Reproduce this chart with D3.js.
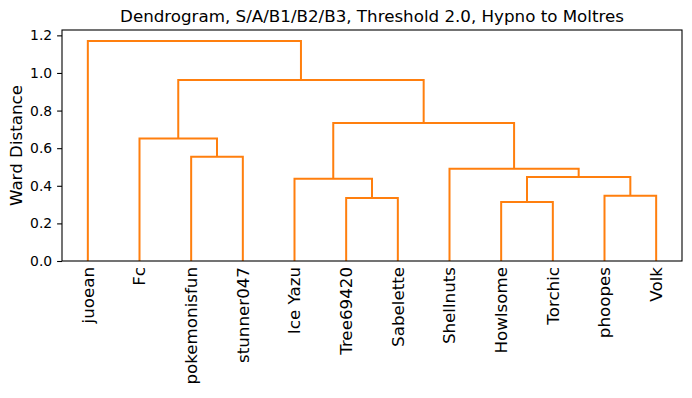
<!DOCTYPE html>
<html>
<head>
<meta charset="utf-8">
<script src="https://cdn.jsdelivr.net/npm/d3@7"></script>
<style>
  body { margin: 0; background: #fff; }
  text { font-family: "DejaVu Sans", sans-serif; fill: #000; }
</style>
</head>
<body>
<div id="chart"></div>
<script>
// leaves in dendrogram order
const leaves = ["juoean", "Fc", "pokemonisfun", "stunner047", "Ice Yazu", "Tree69420",
                "Sabelette", "Shellnuts", "Howlsome", "Torchic", "phoopes", "Volk"];

// linkage rows, scipy style: [clusterA, clusterB, height] -> new id = 12 + row
const linkA = [8, 5, 10, 4, 12, 7, 2, 1, 15, 19, 0];
const linkB = [9, 6, 11, 13, 14, 16, 3, 18, 17, 20, 21];
const linkH = [0.314, 0.335, 0.347, 0.438, 0.447, 0.491, 0.555, 0.651, 0.734, 0.963, 1.170];

const yTicks = [0.0, 0.2, 0.4, 0.6, 0.8, 1.0, 1.2];

const width = 692, height = 398;
const margin = { left: 62, right: 10, top: 30, bottom: 137 };
const lineColor = "#ff7f0e";

const svg = d3.select("#chart").append("svg")
    .attr("width", width)
    .attr("height", height);

const x = d3.scaleLinear().domain([0, leaves.length * 10]).range([margin.left, width - margin.right]);
const y = d3.scaleLinear().domain([0, d3.max(linkH) * 1.05]).range([height - margin.bottom, margin.top]);

// position + height of each cluster
let pos = leaves.map((d, i) => 5 + 10 * i);
let hgt = leaves.map(() => 0);

const g = svg.append("g");
linkA.forEach((a, i) => {
    let b = linkB[i], h = linkH[i];
    let pts = [[pos[a], hgt[a]], [pos[a], h], [pos[b], h], [pos[b], hgt[b]]];
    g.append("path")
        .attr("d", d3.line().x(p => x(p[0])).y(p => y(p[1]))(pts))
        .attr("fill", "none")
        .attr("stroke", lineColor)
        .attr("stroke-width", 2);
    pos.push((pos[a] + pos[b]) / 2);
    hgt.push(h);
});

// frame
svg.append("rect")
    .attr("x", margin.left)
    .attr("y", margin.top)
    .attr("width", width - margin.right - margin.left)
    .attr("height", height - margin.bottom - margin.top)
    .attr("fill", "none")
    .attr("stroke", "#000")
    .attr("stroke-width", 1.1);

// y axis
const yAxis = svg.append("g")
    .attr("transform", `translate(${margin.left},0)`)
    .call(d3.axisLeft(y).tickValues(yTicks).tickFormat(d3.format(".1f")).tickSize(4.9).tickPadding(4.9));
yAxis.select(".domain").remove();
yAxis.selectAll("line").attr("stroke", "#000").attr("stroke-width", 1.1);
yAxis.selectAll("text")
    .style("font-family", "DejaVu Sans")
    .style("font-size", "13.9px");

// leaf labels
svg.append("g")
    .selectAll("text")
    .data(leaves)
    .enter()
    .append("text")
    .attr("transform", (d, i) => `translate(${x(5 + 10 * i)},${height - margin.bottom + 6}) rotate(-90)`)
    .attr("dy", "0.35em")
    .attr("text-anchor", "end")
    .style("font-size", "16.7px")
    .text(d => d);

// y label
svg.append("text")
    .attr("transform", `translate(22,${(margin.top + height - margin.bottom) / 2}) rotate(-90)`)
    .attr("text-anchor", "middle")
    .style("font-size", "16.7px")
    .text("Ward Distance");

// title
svg.append("text")
    .attr("x", (margin.left + width - margin.right) / 2)
    .attr("y", 22)
    .attr("text-anchor", "middle")
    .style("font-size", "16.7px")
    .text("Dendrogram, S/A/B1/B2/B3, Threshold 2.0, Hypno to Moltres");
</script>
</body>
</html>
